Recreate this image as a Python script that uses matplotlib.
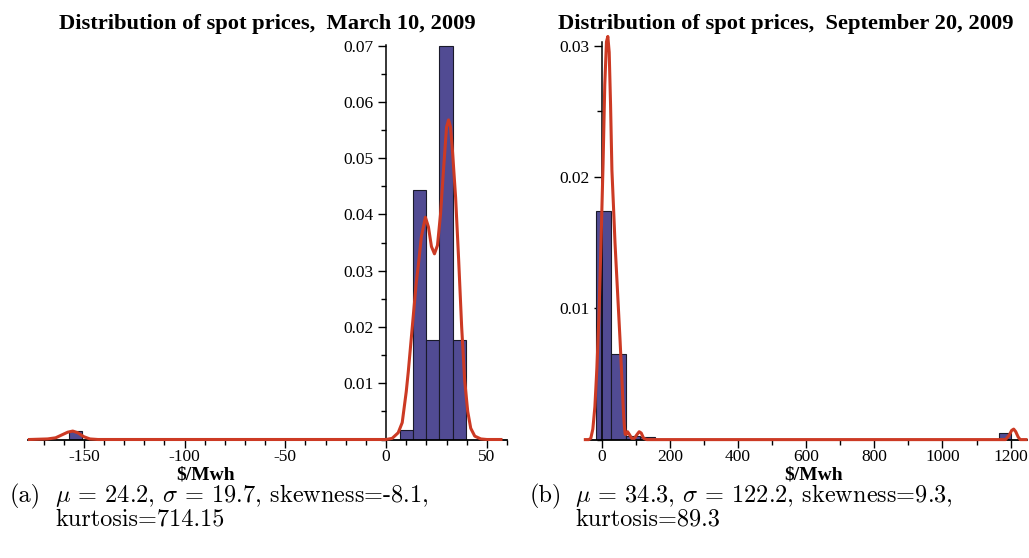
import numpy as np
import matplotlib
matplotlib.use("Agg")
import matplotlib.pyplot as plt
from matplotlib.ticker import MultipleLocator

# March 10, 2009: histogram of spot prices (density) and smoothed density
mar_edges = [6.7, 13.3, 19.9, 26.5, 33.1, 39.7]
mar_heights = [0.0017, 0.0443, 0.0176, 0.0700, 0.0176]
mar_low_edges = [-157.5, -150.9]
mar_low_heights = [0.0015]

mar_kde_x = [-177, -168, -164, -161, -158, -155.5, -153, -150, -147, -143,
             0, 3, 6, 8, 10, 11, 13, 15, 16, 17.5, 19.5, 21, 22.5, 24, 25.5,
             27, 28.5, 30, 31, 32, 33, 34.5, 36, 37.5, 39, 40.5, 42, 44, 47,
             50, 57]
mar_kde_y = [0, 0.0001, 0.0003, 0.0008, 0.0013, 0.0015, 0.0012, 0.0005,
             0.0001, 0, 0, 0.0002, 0.0012, 0.003, 0.0085, 0.012, 0.020,
             0.028, 0.031, 0.036, 0.0395, 0.0378, 0.0343, 0.0330, 0.0345,
             0.0400, 0.0480, 0.0555, 0.0568, 0.0555, 0.0510, 0.0430, 0.0320,
             0.0200, 0.0105, 0.0050, 0.0020, 0.0006, 0.0001, 0, 0]

mar_xticks = [-150, -100, -50, 0, 50]
mar_xticklabels = ['-150', '-100', '-50', '0', '50']
mar_yticks = [0.01, 0.02, 0.03, 0.04, 0.05, 0.06, 0.07]
mar_yticklabels = ['0.01', '0.02', '0.03', '0.04', '0.05', '0.06', '0.07']

# September 20, 2009
sep_edges = [-17, 26.5, 70, 113.5, 157]
sep_heights = [0.0174, 0.0065, 0.0003, 0.0002]
sep_high_edges = [1166, 1200]
sep_high_heights = [0.0005]

sep_kde_x = [-48, -38, -32, -26, -20, -14, -8, -2, 4, 9, 14, 18, 22, 26,
             30, 35, 39, 44, 49, 54, 58.6, 63, 66, 69, 72, 76, 81, 88, 96,
             104, 110, 116, 123, 132, 1185, 1195, 1203, 1209, 1215, 1222,
             1228, 1245]
sep_kde_y = [0, 0, 0.0001, 0.0008, 0.0025, 0.0055, 0.0095, 0.015, 0.021,
             0.027, 0.0303, 0.0307, 0.0295, 0.0255, 0.0205, 0.0175, 0.015,
             0.0125, 0.0100, 0.0075, 0.0050, 0.0025, 0.0012, 0.0004, 0.0004,
             0.0006, 0.0004, 0.0001, 0.0001, 0.0004, 0.0006, 0.0005, 0.0001,
             0, 0, 0.0003, 0.0007, 0.0008, 0.0006, 0.0002, 0, 0]

sep_xticks = [0, 200, 400, 600, 800, 1000, 1200]
sep_xticklabels = ['0', '200', '400', '600', '800', '1000', '1200']
sep_yticks = [0.01, 0.02, 0.03]
sep_yticklabels = ['0.01', '0.02', '0.03']

captions = [
    ("(a)", r"$\mu$ = 24.2, $\sigma$ = 19.7, skewness=-8.1,", "kurtosis=714.15"),
    ("(b)", r"$\mu$ = 34.3, $\sigma$ = 122.2, skewness=9.3,", "kurtosis=89.3"),
]

BAR = '#514b93'
RED = '#cc3a24'
SERIF = 'Liberation Serif'

plt.rcParams['mathtext.fontset'] = 'cm'
plt.rcParams['font.family'] = SERIF

fig = plt.figure(figsize=(10.29, 5.58), dpi=100)
W, H = 1029, 558


def px_axes(x0, x1, ytop, ybot):
    return fig.add_axes([x0 / W, 1 - ybot / H, (x1 - x0) / W, (ybot - ytop) / H])


def draw_hist(ax, edges, heights):
    ax.bar(edges[:-1], heights, width=np.diff(edges), align='edge',
           color=BAR, edgecolor='#1a1a2a', linewidth=0.8, zorder=2)


def style_axes(ax, xticks, xlabels, yticks, ylabels, xminor, yminor):
    for side in ['top', 'right']:
        ax.spines[side].set_visible(False)
    ax.spines['left'].set_position(('data', 0))
    ax.spines['left'].set_linewidth(1.1)
    ax.spines['bottom'].set_linewidth(1.3)
    ax.set_xticks(xticks)
    ax.set_xticklabels(xlabels)
    ax.set_yticks(yticks)
    ax.set_yticklabels(ylabels)
    ax.xaxis.set_minor_locator(MultipleLocator(xminor))
    ax.yaxis.set_minor_locator(MultipleLocator(yminor))
    ax.tick_params(axis='both', which='major', direction='out', length=6,
                   width=1, labelsize=12.5)
    ax.tick_params(axis='both', which='minor', direction='out', length=3.5,
                   width=1)
    ax.tick_params(axis='x', pad=0.5)
    ax.tick_params(axis='y', pad=3)
    ax.set_facecolor('none')


# left panel
ax1 = px_axes(28, 507, 44.5, 439.5)
draw_hist(ax1, mar_edges, mar_heights)
draw_hist(ax1, mar_low_edges, mar_low_heights)
ax1.plot(mar_kde_x, mar_kde_y, color=RED, lw=2.2, zorder=3, clip_on=False)
ax1.set_xlim(-177.7, 60)
ax1.set_ylim(0, 0.0702)
style_axes(ax1, mar_xticks, mar_xticklabels, mar_yticks, mar_yticklabels,
           10, 0.005)

# right panel
ax2 = px_axes(585, 1027, 41.7, 439.6)
draw_hist(ax2, sep_edges, sep_heights)
draw_hist(ax2, sep_high_edges, sep_high_heights)
ax2.plot(sep_kde_x, sep_kde_y, color=RED, lw=2.2, zorder=3, clip_on=False)
ax2.set_xlim(-49, 1248)
ax2.set_ylim(0, 0.0303)
style_axes(ax2, sep_xticks, sep_xticklabels, sep_yticks, sep_yticklabels,
           100, 0.005)

# titles and axis labels
fig.text(267.5 / W, 1 - 24 / H, 'Distribution of spot prices,  March 10, 2009',
         ha='center', va='center', fontsize=16.2, fontweight='bold')
fig.text(786 / W, 1 - 24 / H, 'Distribution of spot prices,  September 20, 2009',
         ha='center', va='center', fontsize=16.2, fontweight='bold')
fig.text(206 / W, 1 - 475 / H, '$/Mwh', ha='center', va='center',
         fontsize=14, fontweight='bold')
fig.text(814 / W, 1 - 475 / H, '$/Mwh', ha='center', va='center',
         fontsize=14, fontweight='bold')

# captions under each panel
for (tag, line1, line2), x0 in zip(captions, [10, 530]):
    fig.text(x0 / W, 1 - 502 / H, tag, family='cmr10', fontsize=17.5,
             va='baseline')
    fig.text((x0 + 45) / W, 1 - 502 / H, line1, family='cmr10',
             fontsize=17.5, va='baseline')
    fig.text((x0 + 45) / W, 1 - 526 / H, line2, family='cmr10',
             fontsize=17.5, va='baseline')

fig.savefig('out.png', dpi=100)
